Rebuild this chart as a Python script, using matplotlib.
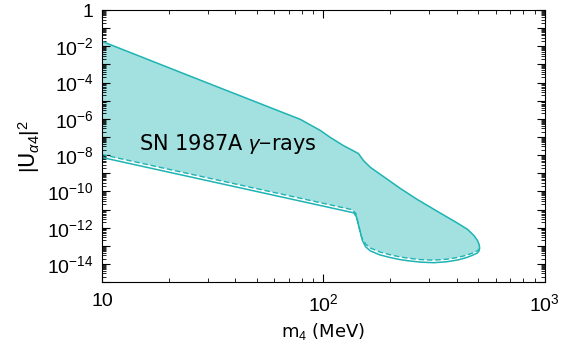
import numpy as np
import matplotlib
matplotlib.use("Agg")
import matplotlib.pyplot as plt
from matplotlib.ticker import LogLocator, FixedLocator, NullFormatter

plt.rcParams['font.family'] = 'Liberation Sans'
plt.rcParams['mathtext.fontset'] = 'custom'
plt.rcParams['mathtext.rm'] = 'Liberation Sans'
plt.rcParams['mathtext.it'] = 'Liberation Sans:italic'

# upper edge of the excluded region (m4 in MeV, log10 |U|^2)
upper_m = [10, 27.7, 78.7, 96.8, 107.6, 123, 143.9, 151.7, 163.3, 222.8, 266, 338, 400, 449, 480, 498, 506, 508]
upper_logu = [-1.73, -3.86, -6.03, -6.64, -7.03, -7.47, -7.91, -8.30, -8.68, -9.84, -10.45, -11.2,
              -11.72, -12.1, -12.45, -12.73, -12.95, -13.12]

# lower edge, solid curve (from the tip back to 10 MeV)
lower_m = [504, 495, 472, 440, 404, 360, 315, 275, 240, 220, 201, 180, 163, 155, 150, 145, 141, 137, 10]
lower_logu = [-13.3, -13.4, -13.52, -13.66, -13.78, -13.88, -13.93, -13.9, -13.82, -13.75, -13.65,
              -13.5, -13.28, -13.05, -12.7, -12.0, -11.4, -11.18, -8.13]

# lower edge, dashed curve
lower_m_d = [505, 495, 472, 440, 404, 360, 315, 275, 240, 220, 201, 180, 163, 155, 149, 144, 140, 134, 10]
lower_logu_d = [-13.2, -13.28, -13.4, -13.53, -13.64, -13.74, -13.79, -13.76, -13.68, -13.6, -13.5,
                -13.34, -13.12, -12.9, -12.55, -11.85, -11.2, -11.0, -7.97]

line_col = '#1fb3b3'
fill_col = '#a2e1e0'

fig, ax = plt.subplots(figsize=(5.61, 3.58), dpi=100)
fig.subplots_adjust(left=0.182, right=0.971, top=0.972, bottom=0.212)

fill_m = upper_m + lower_m_d
fill_u = 10.0 ** np.array(upper_logu + lower_logu_d)
ax.fill(fill_m, fill_u, color=fill_col, lw=0)

ax.plot(upper_m + lower_m, 10.0 ** np.array(upper_logu + lower_logu), color=line_col, lw=1.1)
ax.plot([upper_m[-1]] + lower_m_d, 10.0 ** np.array([upper_logu[-1]] + lower_logu_d),
        color=line_col, lw=1.0, ls=(0, (4, 2)))

ax.set_xscale('log')
ax.set_yscale('log')
ax.set_xlim(10, 1000)
ax.set_ylim(1e-15, 1)

ax.xaxis.set_major_locator(FixedLocator([10, 100, 1000]))
ax.set_xticklabels(['10', r'$10^2$', r'$10^3$'])
ax.xaxis.set_minor_locator(LogLocator(base=10, subs=np.arange(2, 10), numticks=20))
ax.xaxis.set_minor_formatter(NullFormatter())

ydec = [10.0 ** k for k in range(-15, 1)]
ax.yaxis.set_major_locator(FixedLocator(ydec))
ylabels = []
for k in range(-15, 1):
    if k == 0:
        ylabels.append('1')
    elif k % 2 == 0:
        ylabels.append(r'$10^{%d}$' % k)
    else:
        ylabels.append('')
ax.set_yticklabels(ylabels)
ax.yaxis.set_minor_locator(LogLocator(base=10, subs=np.arange(2, 10), numticks=40))
ax.yaxis.set_minor_formatter(NullFormatter())

ax.tick_params(which='both', direction='in', top=True, right=True, labelsize=14)
ax.tick_params(which='major', length=6, width=0.8)
ax.tick_params(which='minor', length=3, width=0.6)
ax.tick_params(axis='y', pad=6)
ax.tick_params(axis='x', pad=8)

ax.text(37, 10 ** -7.4, r'SN 1987A $\gamma$$-$rays', fontsize=15, family='DejaVu Sans',
        ha='center', va='center')

ax.set_xlabel(r'm$_4$ (MeV)', fontsize=13, family='DejaVu Sans', labelpad=4)
ax.set_ylabel(r'$|$U$_{\alpha 4}|^2$', fontsize=15, family='DejaVu Sans', labelpad=4)

plt.savefig('out.png', dpi=100)
